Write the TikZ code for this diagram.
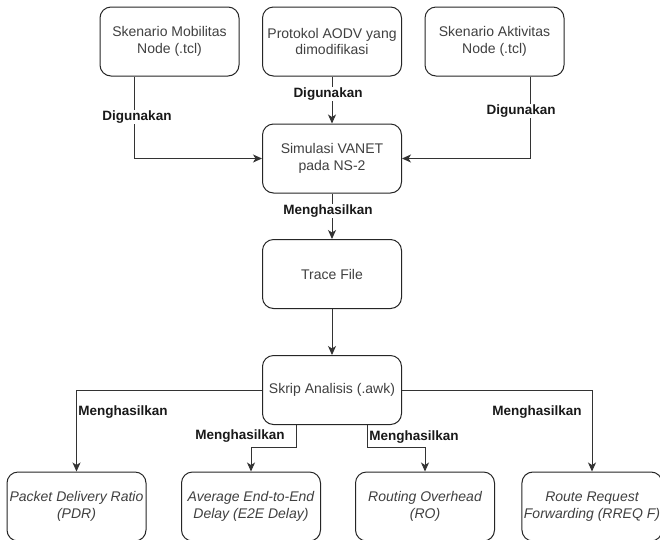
\documentclass[tikz,border=0pt]{standalone}
\usepackage{fontspec}
\setmainfont{Liberation Sans}
\usetikzlibrary{arrows.meta}
\begin{document}
\begin{tikzpicture}[x=1pt,y=-1pt,
  box/.style={draw=black!85, line width=1pt, rounded corners=11pt,
    minimum width=139pt, minimum height=69pt, align=center,
    text=black!75, font=\fontsize{14}{16.8}\selectfont, inner sep=2pt},
  resultbox/.style={box, font=\fontsize{14}{16.8}\selectfont\itshape},
  conn/.style={draw=black!80, line width=1pt,
    -{Stealth[length=9pt,width=8pt,inset=2.5pt]}},
  lbl/.style={fill=white, inner sep=1pt, text=black!90,
    font=\fontsize{13.5}{16}\selectfont\bfseries}]
\useasboundingbox (0,0) rectangle (660,539);
\fill[white] (0,0) rectangle (660,539);

% input scenarios and protocol
\node[box] (mob)  at (169.5,41.5) {Skenario Mobilitas\\Node (.tcl)};
\node[box] (aodv) at (332,41.5)   {Protokol AODV yang\\dimodifikasi};
\node[box] (akt)  at (494.5,41.5) {Skenario Aktivitas\\Node (.tcl)};

% simulation pipeline
\node[box] (sim)   at (332,158.5) {Simulasi VANET\\pada NS-2};
\node[box] (trace) at (332,274)   {Trace File};
\node[box] (skrip) at (332,390)   {Skrip Analisis (.awk)};

% performance metrics
\node[resultbox] (pdr)  at (76.5,506.5) {Packet Delivery Ratio\\(PDR)};
\node[resultbox] (e2e)  at (251,506.5)  {Average End-to-End\\Delay (E2E Delay)};
\node[resultbox] (ro)   at (425,506.5)  {Routing Overhead\\(RO)};
\node[resultbox] (rreq) at (592,506.5)  {Route Request\\Forwarding (RREQ F)};

% connectors into the simulation
\draw[conn] ([xshift=-35.5pt]mob.south) |- (sim.west);
\draw[conn] (aodv) -- (sim);
\draw[conn] ([xshift=35.5pt]akt.south) |- (sim.east);
\draw[conn] (sim) -- (trace);
\draw[conn] (trace) -- (skrip);

% connectors to the metrics
\draw[conn] (skrip.west) -| (pdr.north);
\coordinate (e2eBend) at ([xshift=-36pt]skrip.south);
\draw[conn] (e2eBend) -- ++(0,22) -| (e2e.north);
\coordinate (roBend) at ([xshift=35pt]skrip.south);
\draw[conn] (roBend) -- ++(0,22) -| (ro.north);
\draw[conn] (skrip.east) -| (rreq.north);

% connector labels
\node[lbl] (l1) at (137,117) {Digunakan};
\node[lbl] (l2) at (328,94)  {Digunakan};
\node[lbl] (l3) at (521,111) {Digunakan};
\node[lbl] (l4) at (328,211) {Menghasilkan};
\node[lbl] (l5) at (123,412) {Menghasilkan};
\node[lbl] (l6) at (240,436) {Menghasilkan};
\node[lbl] (l7) at (414,437) {Menghasilkan};
\node[lbl] (l8) at (537,412) {Menghasilkan};
\end{tikzpicture}
\end{document}
